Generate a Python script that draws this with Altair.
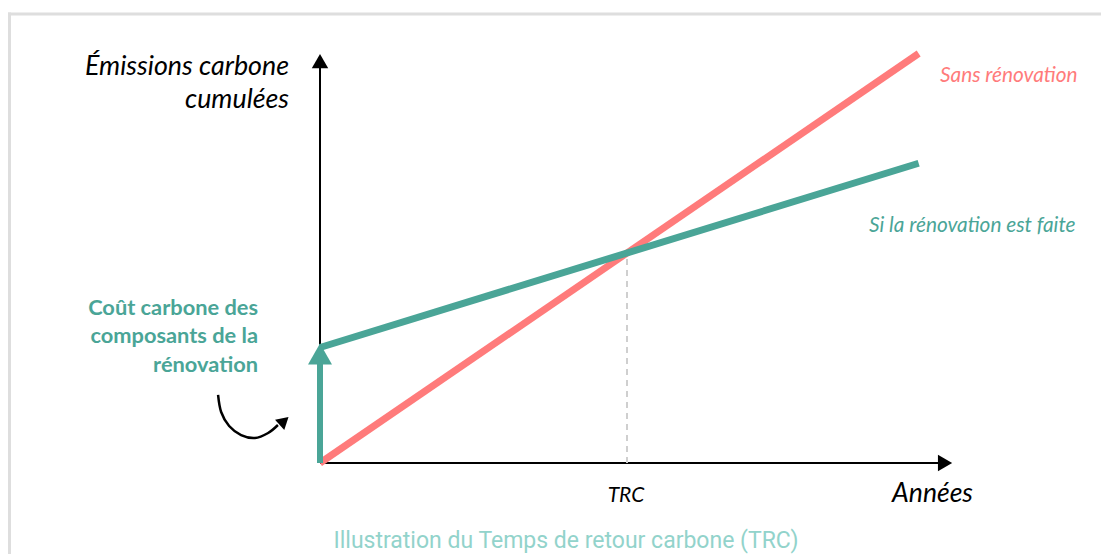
import altair as alt
import pandas as pd

# ---------------- data (conceptual units: years, emission units) ----------------
years = [0, 19.5]
sans_renovation = [0, 195]          # cumulative emissions without renovation
avec_renovation = [55, 142.75]      # with renovation (initial carbon cost + lower slope)
cout_initial = 55
trc_year = 10
trc_value = 100

# curved annotation arrow (in data units)
curve_t = [-3.32, -3.22, -2.96, -2.57, -2.12, -1.69, -1.37]
curve_v = [32.4, 24.3, 17.6, 13.3, 11.9, 14.3, 18.1]

title_y = ["Émissions carbone", "cumulées"]
label_cost = ["Coût carbone des", "composants de la", "rénovation"]
label_sans = "Sans rénovation"
label_avec = "Si la rénovation est faite"
label_trc = "TRC"
label_x = "Années"
caption = "Illustration du Temps de retour carbone (TRC)"

RED = "#FF7B7B"
TEAL = "#4AA597"
CAPTION = "#92D3CB"
FONT = "Lato"

# ---------------- layout ----------------
W, H = 1093, 546
X0, PXY = 312.0, 30.7   # origin pixel, pixels per year
Y0, PXU = 455.0, 2.1    # origin pixel, pixels per unit

xs = alt.Scale(domain=[(0 - X0) / PXY, (W - X0) / PXY], nice=False, zero=False)
ys = alt.Scale(domain=[(Y0 - H) / PXU, Y0 / PXU], nice=False, zero=False)


def X(f="t"):
    return alt.X(f"{f}:Q", scale=xs, axis=None)


def Y(f="v"):
    return alt.Y(f"{f}:Q", scale=ys, axis=None)


one = pd.DataFrame({"a": [0]})

# border
border_top = alt.Chart(one).mark_rule(color="#dedede", strokeWidth=3).encode(
    x=alt.value(0), x2=alt.value(W), y=alt.value(6))
border_left = alt.Chart(one).mark_rule(color="#dedede", strokeWidth=3).encode(
    x=alt.value(1.5), y=alt.value(4.5), y2=alt.value(H))

# axes
axes_df = pd.DataFrame({"t": [0, 0], "v": [0, 0], "t2": [20.2, 0], "v2": [0, 191]})
axes = alt.Chart(axes_df).mark_rule(color="black", strokeWidth=2).encode(
    x=X(), y=Y(), x2="t2:Q", y2="v2:Q")
heads_df = pd.DataFrame({"t": [20.36, 0], "v": [0, 191.4],
                         "shape": ["triangle-right", "triangle-up"]})
heads = alt.Chart(heads_df).mark_point(filled=True, color="black", opacity=1,
                                       size=270, strokeWidth=0).encode(
    x=X(), y=Y(), shape=alt.Shape("shape:N", scale=None))

# dashed TRC line
trc_df = pd.DataFrame({"t": [trc_year], "v": [0], "v2": [trc_value]})
dash = alt.Chart(trc_df).mark_rule(color="#cfcfcf", strokeWidth=2,
                                   strokeDash=[6, 5]).encode(x=X(), y=Y(), y2="v2:Q")

# lines
red_df = pd.DataFrame({"t": years, "v": sans_renovation})
red = alt.Chart(red_df).mark_line(color=RED, strokeWidth=7).encode(x=X(), y=Y())
teal_df = pd.DataFrame({"t": years, "v": avec_renovation})
teal = alt.Chart(teal_df).mark_line(color=TEAL, strokeWidth=7).encode(x=X(), y=Y())

# teal vertical arrow (initial carbon cost)
shaft_df = pd.DataFrame({"t": [0], "v": [0], "v2": [cout_initial - 7]})
shaft = alt.Chart(shaft_df).mark_rule(color=TEAL, strokeWidth=6).encode(
    x=X(), y=Y(), y2="v2:Q")
thead_df = pd.DataFrame({"t": [0], "v": [cout_initial - 3.1]})
thead = alt.Chart(thead_df).mark_point(shape="triangle-up", filled=True, color=TEAL,
                                       opacity=1, size=576, strokeWidth=0).encode(
    x=X(), y=Y())

# curved arrow
curve_df = pd.DataFrame({"t": curve_t, "v": curve_v, "o": list(range(len(curve_t)))})
curve = alt.Chart(curve_df).mark_line(color="black", strokeWidth=2.5,
                                      interpolate="cardinal").encode(
    x=X(), y=Y(), order="o:Q")
chead_df = pd.DataFrame({"t": [-1.17], "v": [20.0]})
chead = alt.Chart(chead_df).mark_point(shape="triangle-up", filled=True, color="black",
                                       opacity=1, size=190, angle=48,
                                       strokeWidth=0).encode(x=X(), y=Y())


def txt(s, x, y, size, color="black", align="left", style="normal", weight="normal",
        font=FONT):
    return alt.Chart(one).mark_text(text=s, align=align, baseline="alphabetic",
                                    fontSize=size, color=color, fontStyle=style,
                                    fontWeight=weight, font=font).encode(
        x=alt.value(x), y=alt.value(y))


texts = [
    txt(title_y[0], 281, 67, 26.8, align="right", style="italic"),
    txt(title_y[1], 281, 100, 26.8, align="right", style="italic"),
    txt(label_cost[0], 250, 307, 21.8, color=TEAL, align="right", weight="bold"),
    txt(label_cost[1], 250, 335, 21.8, color=TEAL, align="right", weight="bold"),
    txt(label_cost[2], 250, 364, 21.8, color=TEAL, align="right", weight="bold"),
    txt(label_sans, 932, 74, 20.8, color=RED, style="italic"),
    txt(label_avec, 861, 224, 20.8, color=TEAL, style="italic"),
    txt(label_trc, 618, 494, 21, align="center", style="italic"),
    txt(label_x, 884, 494, 26.6, style="italic"),
    txt(caption, 558, 540, 23, color=CAPTION, align="center", font="Roboto"),
]

chart = alt.layer(border_top, border_left, axes, heads, dash, red, shaft, teal, thead,
                  curve, chead, *texts).properties(
    width=W, height=H, padding=0, autosize="none"
).configure_view(stroke=None)

chart.save("out.html", embed_options={"renderer": "svg", "actions": False})
